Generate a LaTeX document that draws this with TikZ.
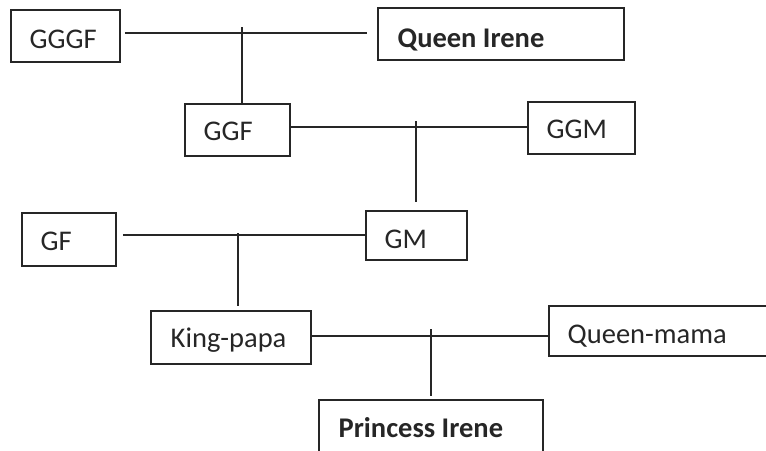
\documentclass[tikz,border=0pt]{standalone}
\usepackage{fontspec}
\setmainfont{Carlito}
\usetikzlibrary{calc}
\begin{document}
\begin{tikzpicture}[x=1pt,y=-1pt,
  box/.style={draw=black!85, line width=1.8pt, rectangle, inner sep=0pt},
  lbl/.style={anchor=base west, inner sep=0pt, font=\fontsize{28.5}{31}\selectfont, text=black!85},
  conn/.style={draw=black!85, line width=1.8pt}]
\useasboundingbox (0,0) rectangle (766,450);
\clip (0,0) rectangle (766,450);
% boxes
\node[box, minimum width=109, minimum height=52] (gggf) at (65.5,36) {};
\node[box, minimum width=246, minimum height=52] (queen) at (501,34) {};
\node[box, minimum width=105, minimum height=52] (ggf) at (237.5,130) {};
\node[box, minimum width=107, minimum height=52] (ggm) at (581.5,128) {};
\node[box, minimum width=94, minimum height=53] (gf) at (69,239.5) {};
\node[box, minimum width=101, minimum height=49] (gm) at (416.5,235.5) {};
\node[box, minimum width=160, minimum height=53] (king) at (231,337.5) {};
\node[box, minimum width=241, minimum height=50] (qmama) at (669.5,331) {};
\node[box, minimum width=224, minimum height=80] (princess) at (431,440) {};
% labels
\node[lbl] (gggf-t) at (29.5,48) {GGGF};
\node[lbl, font=\fontsize{28.5}{31}\selectfont\bfseries] (queen-t) at (397.5,47) {Queen Irene};
\node[lbl] (ggf-t) at (203.5,140) {GGF};
\node[lbl] (ggm-t) at (546.5,138) {GGM};
\node[lbl] (gf-t) at (40.5,250) {GF};
\node[lbl] (gm-t) at (384.5,248) {GM};
\node[lbl] (king-t) at (170.5,347) {King-papa};
\node[lbl] (qmama-t) at (567.5,343) {Queen-mama};
\node[lbl, font=\fontsize{28.5}{31}\selectfont\bfseries] (princess-t) at (338.5,437) {Princess Irene};
% junctions
\coordinate (m1) at (242,33);
\coordinate (m1t) at (242,27);
\coordinate (m2) at (416,127);
\coordinate (m2t) at (416,121);
\coordinate (m3) at (238,235);
\coordinate (m3t) at (238,233);
\coordinate (m4) at (431,336);
\coordinate (m4t) at (431,329);
% connectors
\draw[conn] ($(gggf.east|-m1)+(4,0)$) -- ($(queen.west|-m1)+(-10,0)$);
\draw[conn] (m1t) -- (m1t |- ggf.north);
\draw[conn] (ggf.east|-m2) -- (ggm.west|-m2);
\draw[conn, shorten >=8pt] (m2t) -- (m2t |- gm.north);
\draw[conn] ($(gf.east|-m3)+(6,0)$) -- (gm.west|-m3);
\draw[conn, shorten >=4pt] (m3t) -- (m3t |- king.north);
\draw[conn] (king.east|-m4) -- (qmama.west|-m4);
\draw[conn, shorten >=3pt] (m4t) -- (m4t |- princess.north);
\end{tikzpicture}
\end{document}
